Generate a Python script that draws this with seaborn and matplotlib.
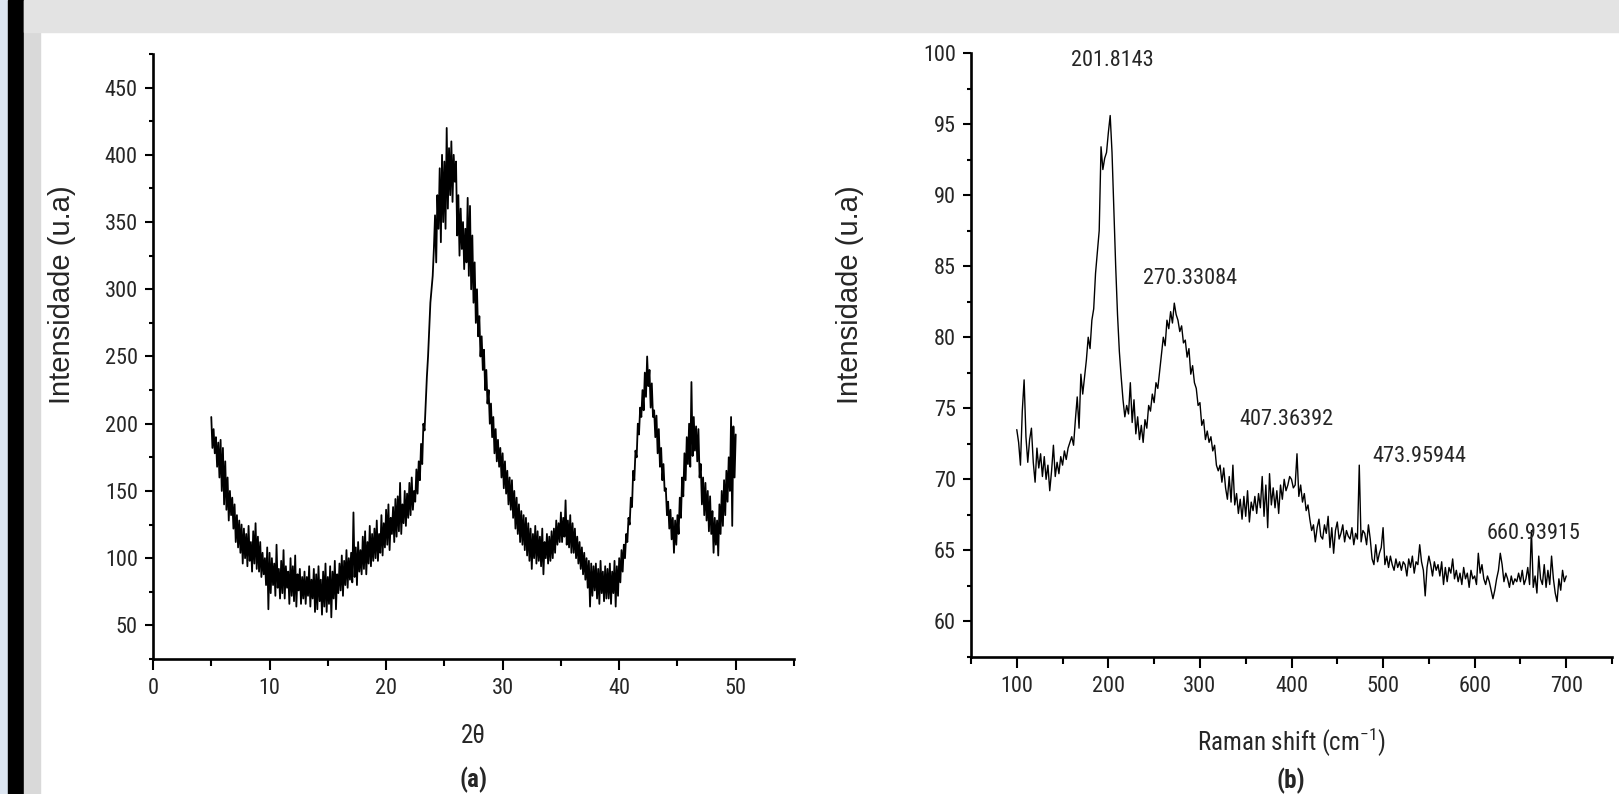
import matplotlib
matplotlib.use('Agg')
import matplotlib.pyplot as plt
import numpy as np
import pandas as pd
import seaborn as sns
from matplotlib.patches import Rectangle
from matplotlib.ticker import MultipleLocator

# XRD intensity, one value every 0.1 deg from 5.0 to 50.0
xrd_intensity = [
    205, 182, 196, 178, 190, 168, 186, 160, 188, 150,
    182, 140, 172, 136, 160, 128, 150, 132, 145, 122,
    140, 112, 132, 108, 128, 104, 125, 96, 122, 100,
    118, 94, 124, 98, 112, 90, 120, 96, 126, 92,
    116, 90, 112, 86, 104, 88, 100, 80, 108, 62,
    104, 74, 100, 80, 96, 72, 110, 78, 92, 70,
    98, 74, 106, 70, 94, 78, 90, 66, 100, 72,
    94, 68, 102, 64, 88, 76, 92, 66, 86, 70,
    90, 66, 86, 72, 94, 64, 84, 70, 92, 60,
    88, 62, 94, 68, 84, 58, 90, 64, 96, 60,
    86, 66, 94, 56, 90, 70, 98, 62, 88, 74,
    96, 76, 102, 72, 98, 80, 106, 78, 100, 84,
    104, 82, 134, 86, 108, 80, 112, 90, 106, 88,
    116, 92, 120, 88, 112, 96, 124, 94, 118, 98,
    122, 100, 128, 98, 118, 104, 132, 102, 126, 108,
    136, 110, 140, 106, 130, 118, 138, 112, 144, 116,
    146, 120, 156, 118, 140, 126, 150, 124, 148, 130,
    156, 132, 160, 136, 150, 142, 166, 148, 172, 158,
    185, 170, 200, 195, 215, 235, 250, 270, 290, 300,
    310, 330, 355, 320, 370, 345, 390, 335, 400, 350,
    395, 345, 420, 360, 405, 370, 410, 365, 400, 380,
    395, 340, 370, 325, 360, 330, 350, 315, 345, 320,
    368, 310, 362, 300, 340, 290, 320, 275, 300, 265,
    280, 250, 265, 240, 255, 225, 240, 215, 225, 200,
    215, 190, 205, 178, 196, 172, 188, 168, 182, 160,
    178, 152, 172, 148, 165, 140, 160, 136, 158, 130,
    150, 122, 145, 118, 140, 112, 135, 110, 132, 106,
    130, 102, 126, 98, 122, 92, 118, 100, 124, 96,
    120, 98, 116, 94, 122, 88, 112, 100, 118, 96,
    116, 98, 120, 100, 122, 104, 128, 110, 126, 112,
    134, 112, 130, 116, 143, 110, 128, 108, 132, 104,
    126, 104, 122, 100, 116, 96, 112, 92, 108, 88,
    104, 84, 100, 78, 98, 64, 96, 72, 94, 76,
    96, 70, 92, 66, 98, 74, 90, 68, 94, 70,
    92, 70, 96, 66, 90, 74, 98, 64, 94, 72,
    100, 82, 106, 90, 110, 100, 118, 112, 130, 125,
    145, 138, 165, 158, 180, 175, 200, 192, 212, 205,
    225, 210, 238, 220, 250, 228, 240, 212, 230, 205,
    210, 190, 206, 178, 196, 168, 182, 158, 170, 150,
    152, 132, 142, 122, 136, 114, 130, 104, 128, 110,
    132, 118, 145, 130, 160, 146, 178, 158, 190, 170,
    200, 168, 231, 176, 205, 180, 198, 172, 196, 160,
    170, 140, 160, 132, 156, 128, 150, 120, 146, 118,
    135, 104, 130, 110, 128, 102, 140, 118, 150, 124,
    158, 132, 165, 142, 175, 150, 205, 124, 198, 160,
    192,
]
two_theta = np.round(np.linspace(5, 50, len(xrd_intensity)), 1)

# Raman intensity, one value every 2 cm-1 from 100 to 700
raman_intensity = [
    73.5, 72.6, 71.0, 74.8, 77.0, 73.0, 71.2, 72.8, 73.6, 71.2,
    69.8, 72.2, 70.8, 71.8, 70.2, 71.6, 70.0, 71.0, 69.2, 70.6,
    72.4, 70.2, 71.2, 70.4, 71.6, 71.0, 72.0, 71.4, 72.2, 72.6,
    73.0, 72.4, 74.2, 75.8, 73.6, 77.4, 76.0, 77.2, 78.4, 80.0,
    79.2, 81.2, 82.0, 84.5, 86.0, 87.5, 93.4, 91.8, 92.6, 93.0,
    94.4, 95.6, 93.0, 89.0, 85.0, 81.6, 79.0, 77.2, 75.6, 74.4,
    75.2, 74.6, 76.8, 74.0, 75.6, 73.2, 74.4, 72.8, 73.8, 72.6,
    74.2, 73.6, 75.2, 74.8, 76.0, 75.4, 76.8, 76.4, 77.6, 78.8,
    80.0, 79.4, 81.2, 80.6, 81.8, 81.0, 82.4, 81.6, 81.2, 80.4,
    80.8, 79.6, 79.8, 78.6, 79.2, 77.4, 78.0, 76.8, 76.4, 75.2,
    75.4, 73.8, 74.2, 72.8, 73.4, 72.6, 73.0, 72.0, 72.4, 71.0,
    70.6, 71.0, 69.8, 70.8, 69.4, 68.6, 70.2, 68.4, 71.0, 68.2,
    69.0, 67.6, 68.6, 67.2, 68.8, 67.4, 69.2, 67.0, 68.4, 67.8,
    68.8, 67.6, 69.0, 68.0, 70.2, 67.4, 69.6, 66.6, 70.4, 68.2,
    69.4, 68.0, 69.2, 67.6, 69.6, 68.6, 70.0, 69.2, 69.6, 70.2,
    70.0, 69.4, 69.6, 71.8, 68.8, 69.6, 68.4, 69.0, 67.8, 68.2,
    67.2, 66.4, 66.8, 65.6, 66.6, 67.2, 66.0, 65.8, 66.8, 66.2,
    67.4, 65.2, 66.6, 64.8, 66.4, 67.0, 65.8, 66.2, 66.8, 65.6,
    66.4, 66.0, 65.8, 66.6, 65.4, 66.2, 65.8, 71.0, 65.6, 66.4,
    66.2, 65.4, 66.8, 65.8, 64.4, 64.0, 65.4, 64.2, 64.8, 65.2,
    66.6, 64.0, 64.6, 63.8, 64.6, 64.0, 63.6, 64.4, 63.8, 64.2,
    63.6, 64.2, 64.0, 63.2, 64.4, 63.8, 64.6, 63.4, 64.2, 64.0,
    65.4, 64.2, 63.6, 61.8, 63.8, 64.6, 64.0, 63.2, 64.2, 63.6,
    64.0, 63.2, 64.2, 62.6, 63.8, 62.8, 63.8, 63.4, 64.4, 63.0,
    63.6, 62.8, 63.4, 62.6, 63.8, 63.0, 63.4, 62.4, 63.6, 63.0,
    63.2, 62.6, 64.8, 63.4, 64.0, 63.0, 62.6, 63.2, 62.8, 62.2,
    61.6, 62.2, 63.0, 63.6, 64.8, 64.0, 62.8, 63.4, 63.0, 62.4,
    63.2, 62.6, 63.0, 62.8, 63.4, 62.8, 63.6, 62.6, 63.0, 63.8,
    62.6, 66.4, 62.4, 63.2, 62.0, 64.6, 63.0, 62.6, 64.0, 62.4,
    63.6, 62.6, 64.6, 63.0, 62.0, 61.4, 63.0, 62.2, 63.6, 62.8,
    63.2,
]
raman_shift = np.linspace(100, 700, len(raman_intensity))

peak_labels = ['201.8143', '270.33084', '407.36392', '473.95944', '660.93915']
peak_label_x = [204, 289, 395, 540, 664]
peak_label_y = [99.5, 84.1, 74.2, 71.6, 66.2]

W, H = 1619, 794

sns.set_style('ticks')
narrow = ['Liberation Sans Narrow', 'Roboto Condensed', 'Open Sans Condensed',
          'Liberation Sans', 'DejaVu Sans']
plt.rcParams['font.family'] = narrow
plt.rcParams['mathtext.fontset'] = 'custom'
plt.rcParams['mathtext.rm'] = 'Liberation Sans'
txt_color = '#262626'


def fx(x):
    return x / W


def fy(y):
    return 1 - y / H


fig = plt.figure(figsize=(W / 100, H / 100), dpi=100, facecolor='white')

# frame around the white panel
fig.add_artist(Rectangle((0, 0), fx(8), 1, transform=fig.transFigure, color='#dce5f1', zorder=-10))
fig.add_artist(Rectangle((fx(8), 0), fx(16), 1, transform=fig.transFigure, color='black', zorder=-10))
fig.add_artist(Rectangle((fx(24), 0), fx(16), 1, transform=fig.transFigure, color='#d9d9d9', zorder=-10))
fig.add_artist(Rectangle((fx(24), fy(32)), 1, 32 / H, transform=fig.transFigure, color='#e3e3e3', zorder=-10))

ax1 = fig.add_axes([fx(153), fy(659), 641 / W, 605 / H])
ax2 = fig.add_axes([fx(971), fy(657), 641 / W, 604 / H])

df_xrd = pd.DataFrame({'two_theta': two_theta, 'intensity': xrd_intensity})
df_raman = pd.DataFrame({'shift': raman_shift, 'intensity': raman_intensity})

sns.lineplot(data=df_xrd, x='two_theta', y='intensity', ax=ax1, color='black',
             linewidth=1.3, estimator=None, sort=False)
sns.lineplot(data=df_raman, x='shift', y='intensity', ax=ax2, color='black',
             linewidth=1.0, estimator=None, sort=False)

ax1.set_xlim(0, 55)
ax1.set_ylim(25, 475)
ax1.xaxis.set_major_locator(MultipleLocator(10))
ax1.xaxis.set_minor_locator(MultipleLocator(5))
ax1.yaxis.set_minor_locator(MultipleLocator(25))
ax1.set_yticks([50, 100, 150, 200, 250, 300, 350, 400, 450])

ax2.set_xlim(50, 750)
ax2.set_ylim(57.5, 100)
ax2.xaxis.set_minor_locator(MultipleLocator(50))
ax2.set_xticks([100, 200, 300, 400, 500, 600, 700])
ax2.yaxis.set_minor_locator(MultipleLocator(2.5))
ax2.set_yticks([60, 65, 70, 75, 80, 85, 90, 95, 100])

for ax in (ax1, ax2):
    ax.set_facecolor('none')
    sns.despine(ax=ax)
    for side in ('left', 'bottom'):
        ax.spines[side].set_linewidth(1.9)
        ax.spines[side].set_color('black')
    ax.tick_params(axis='x', which='major', length=8, width=1.5, pad=6,
                   labelsize=16, labelcolor=txt_color, color='black')
    ax.tick_params(axis='x', which='minor', length=5, width=1.5, color='black')
    ax.tick_params(axis='y', which='major', length=6, width=1.5, pad=5,
                   labelsize=16, labelcolor=txt_color, color='black')
    ax.tick_params(axis='y', which='minor', length=3, width=1.5, color='black')
    ax.set_xlabel('')
    ax.set_ylabel('')

for lab, px, py in zip(peak_labels, peak_label_x, peak_label_y):
    ax2.text(px, py, lab, ha='center', va='center', fontsize=16, color=txt_color)

# axis titles and panel letters
fig.text(fx(473), fy(736), '2θ', ha='center', va='center', fontsize=18, color=txt_color)
fig.text(fx(473), fy(780), '(a)', ha='center', va='center', fontsize=18,
         fontweight='bold', color=txt_color)
fig.text(fx(1291), fy(742), r'Raman shift (cm$^{\mathregular{-1}}$)', ha='center', va='center',
         fontsize=18, color=txt_color)
fig.text(fx(1291), fy(781), '(b)', ha='center', va='center', fontsize=18,
         fontweight='bold', color=txt_color)
fig.text(fx(62), fy(295), 'Intensidade (u.a)', rotation=90, ha='center', va='center',
         fontsize=21, color=txt_color, family=['Liberation Sans', 'DejaVu Sans'])
fig.text(fx(850), fy(295), 'Intensidade (u.a)', rotation=90, ha='center', va='center',
         fontsize=21, color=txt_color, family=['Liberation Sans', 'DejaVu Sans'])

fig.savefig('out.png', dpi=100, facecolor='white')
